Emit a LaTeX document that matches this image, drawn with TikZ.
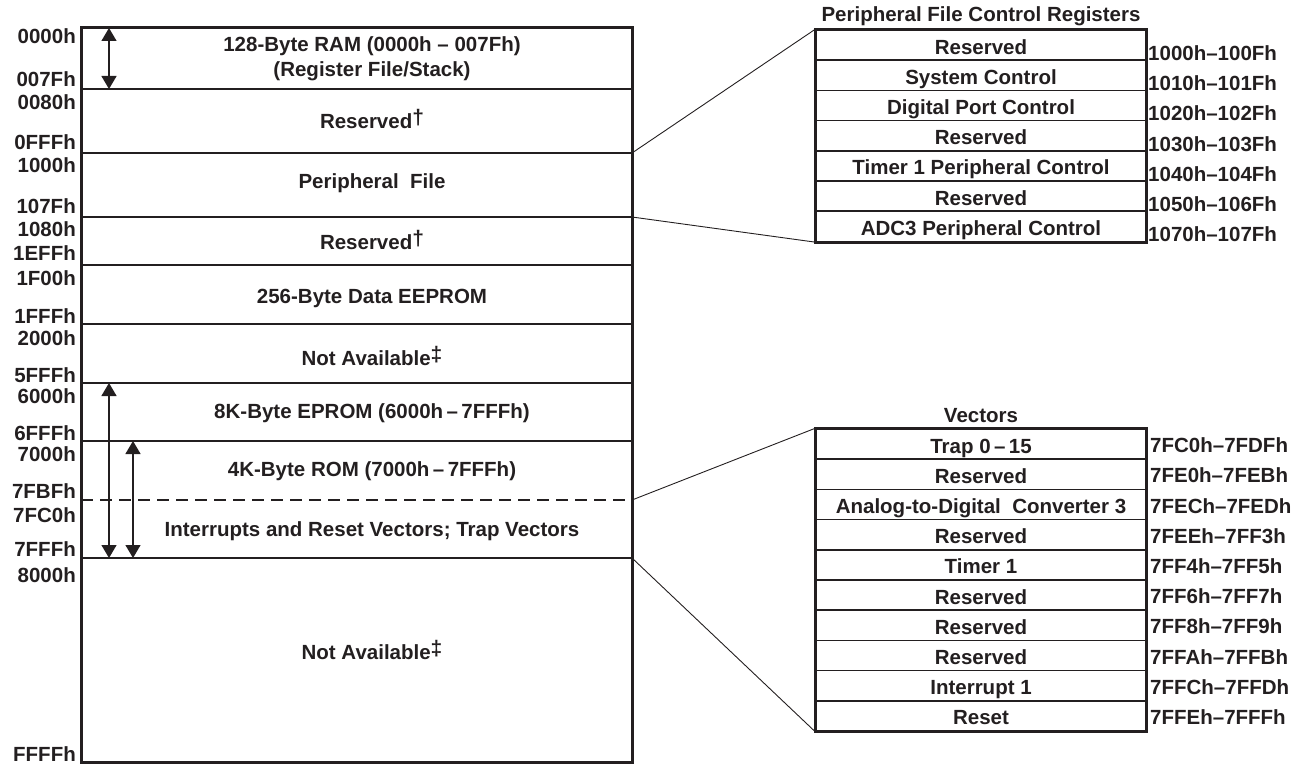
\documentclass[tikz,border=0pt]{standalone}
\usepackage{fontspec}
\setmainfont{Liberation Sans}
\usetikzlibrary{arrows.meta,positioning}
\definecolor{ink}{HTML}{231F20}
\newcommand{\fnmark}[1]{\raisebox{4pt}{\fontsize{21}{21}\selectfont #1}}

\begin{document}
\begin{tikzpicture}[x=1pt,y=-1pt,
    every node/.style={font=\fontsize{20.5}{25}\selectfont\bfseries, text=ink},
    frame/.style={draw=ink, line width=3pt},
    divider/.style={draw=ink, line width=1.5pt},
    span/.style={draw=ink, line width=1.3pt,
        {Triangle[length=13pt,width=15pt]}-{Triangle[length=13pt,width=15pt]}},
    zoomline/.style={draw=ink, line width=0.9pt},
    regcell/.style={draw=ink, line width=1.5pt, minimum width=330pt,
        minimum height=30.2pt, inner sep=0pt, text height=18pt, text depth=0pt},
    addr/.style={anchor=east, inner sep=0pt, text height=15pt, text depth=0pt},
    rangelbl/.style={anchor=west, inner sep=0pt, text height=15pt, text depth=0pt}]
    \useasboundingbox (0,0) rectangle (1309,765);

    % Memory map
    \draw[frame] (81,28) rectangle (632,762);
    \foreach \y in {89,153,217,265,324,383,441,558}
        \draw[divider] (81,\y) -- (632,\y);
    \draw[divider, dash pattern=on 12pt off 7pt] (81,500) -- (632,500);

    \coordinate (pf-in)   at (632,153);
    \coordinate (pf-out)  at (632,217);
    \coordinate (vec-in)  at (632,500);
    \coordinate (vec-out) at (632,558);

    % Block contents
    \node[align=center] (ram) at (372,58.5)
        {128-Byte RAM (0000h -- 007Fh)\\(Register File/Stack)};
    \node (res1)   at (372,119) {Reserved\fnmark{†}};
    \node (pfile)  at (372,183) {Peripheral\ \ File};
    \node (res2)   at (372,240) {Reserved\fnmark{†}};
    \node (eeprom) at (372,298) {256-Byte Data EEPROM};
    \node (na1)    at (372,356) {Not Available\fnmark{‡}};
    \node (eprom)  at (372,413) {8K-Byte EPROM (6000h\,--\,7FFFh)};
    \node (rom)    at (372,471) {4K-Byte ROM (7000h\,--\,7FFFh)};
    \node (vect)   at (372,531) {Interrupts and Reset Vectors; Trap Vectors};
    \node (na2)    at (372,650) {Not Available\fnmark{‡}};

    % Size arrows
    \coordinate (ram-a)   at (109,28);
    \coordinate (ram-b)   at (109,89);
    \coordinate (eprom-a) at (109,383);
    \coordinate (eprom-b) at (109,558);
    \coordinate (rom-a)   at (133,441);
    \coordinate (rom-b)   at (133,558);
    \draw[span] (ram-a) -- (ram-b);
    \draw[span] (eprom-a) -- (eprom-b);
    \draw[span] (rom-a) -- (rom-b);

    % Addresses
    \foreach \a/\y in {0000h/36, 007Fh/79, 0080h/102, 0FFFh/142, 1000h/165,
        107Fh/206, 1080h/229, 1EFFh/253, 1F00h/278, 1FFFh/316, 2000h/338,
        5FFFh/375, 6000h/396, 6FFFh/433, 7000h/454, 7FBFh/491, 7FC0h/515,
        7FFFh/549, 8000h/575, FFFFh/754}
        \node[addr] (a-\a) at (76,\y) {\a};

    % Peripheral file control registers
    \foreach \txt/\rng [count=\i] in {Reserved/1000h--100Fh,
        System Control/1010h--101Fh, Digital Port Control/1020h--102Fh,
        Reserved/1030h--103Fh, Timer 1 Peripheral Control/1040h--104Fh,
        Reserved/1050h--106Fh, ADC3 Peripheral Control/1070h--107Fh} {
        \node[regcell] (pf\i) at (981,{30+30.2*(\i-0.5)}) {\txt};
        \node[rangelbl] (pfr\i) at (1148,{38+30.2*(\i-0.5)}) {\rng};
    }
    \draw[frame] (pf1.north west) rectangle (pf7.south east);
    \node[above=3pt of pf1.north, inner sep=0pt] (pftitle)
        {Peripheral File Control Registers};

    % Vectors
    \foreach \txt/\rng [count=\i] in {Trap 0\,--\,15/7FC0h--7FDFh,
        Reserved/7FE0h--7FEBh, Analog-to-Digital\ \ Converter 3/7FECh--7FEDh,
        Reserved/7FEEh--7FF3h, Timer 1/7FF4h--7FF5h, Reserved/7FF6h--7FF7h,
        Reserved/7FF8h--7FF9h, Reserved/7FFAh--7FFBh,
        Interrupt 1/7FFCh--7FFDh, Reset/7FFEh--7FFFh} {
        \node[regcell] (vc\i) at (981,{429+30.2*(\i-0.5)}) {\txt};
        \node[rangelbl] (vcr\i) at (1150,{430+30.2*(\i-0.5)}) {\rng};
    }
    \draw[frame] (vc1.north west) rectangle (vc10.south east);
    \node[above=5pt of vc1.north, inner sep=0pt] (vctitle) {Vectors};

    % Expansion lines
    \draw[zoomline] (pf-in) -- (pf1.north west);
    \draw[zoomline] (pf-out) -- (pf7.south west);
    \draw[zoomline] (vec-in) -- (vc1.north west);
    \draw[zoomline] (vec-out) -- (vc10.south west);
\end{tikzpicture}
\end{document}
